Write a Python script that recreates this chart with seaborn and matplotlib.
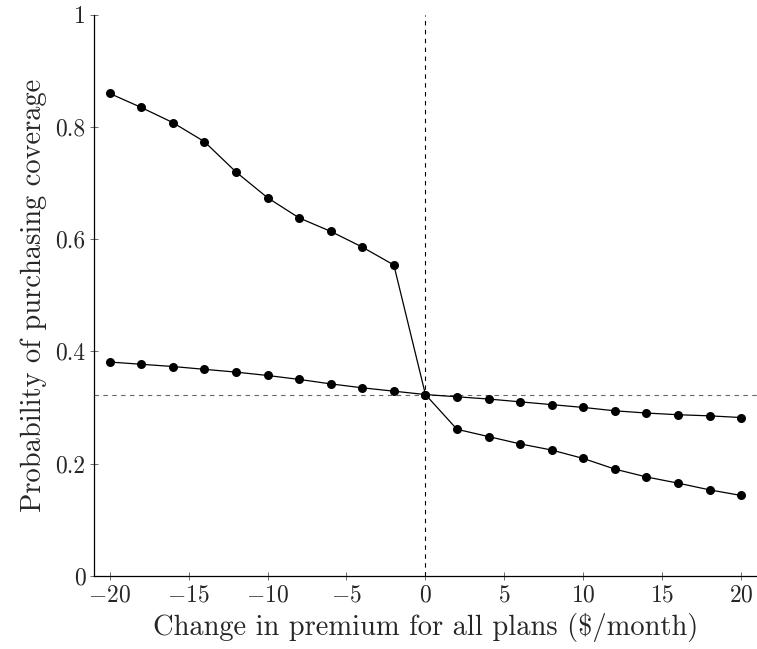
import pandas as pd
import matplotlib.pyplot as plt
import seaborn as sns

# Datos
premium = [-20, -18, -16, -14, -12, -10, -8, -6, -4, -2, 0,
           2, 4, 6, 8, 10, 12, 14, 16, 18, 20]
prob_steep = [0.860, 0.835, 0.808, 0.774, 0.720, 0.674, 0.638, 0.614, 0.586, 0.554, 0.323,
              0.261, 0.248, 0.235, 0.224, 0.209, 0.190, 0.176, 0.165, 0.153, 0.143]
prob_flat = [0.381, 0.377, 0.373, 0.368, 0.363, 0.357, 0.350, 0.342, 0.335, 0.329, 0.323,
             0.319, 0.315, 0.310, 0.305, 0.300, 0.294, 0.290, 0.287, 0.285, 0.282]
baseline = 0.323
xticks = [-20, -15, -10, -5, 0, 5, 10, 15, 20]
yticks = [0, 0.2, 0.4, 0.6, 0.8, 1]
ytick_labels = ['0', '0.2', '0.4', '0.6', '0.8', '1']

df = pd.DataFrame({
    'premium': premium * 2,
    'prob': prob_steep + prob_flat,
    'serie': ['steep'] * len(premium) + ['flat'] * len(premium),
})

sns.set_theme(style="ticks")
plt.rcParams['font.family'] = ['cmr10', 'DejaVu Serif']
plt.rcParams['mathtext.fontset'] = 'cm'
plt.rcParams['axes.formatter.use_mathtext'] = True

fig = plt.figure(figsize=(7.57, 6.49), dpi=100)
ax = fig.add_axes([0.124, 0.113, 0.876, 0.864])

# Líneas de referencia
ax.axvline(0, color='black', linestyle=(0, (4, 4)), linewidth=0.8, zorder=1)
ax.axhline(baseline, color='#666666', linestyle=(0, (4, 4)), linewidth=0.8, zorder=1)

sns.lineplot(data=df, x='premium', y='prob', hue='serie', palette=['black', 'black'],
             marker='o', markersize=6.5, markeredgewidth=0, linewidth=0.9,
             legend=False, ax=ax, zorder=3)

ax.set_xlim(-21, 21)
ax.set_ylim(0, 1)
ax.set_xticks(xticks)
ax.set_xticklabels([f'${t}$' for t in xticks])
ax.set_yticks(yticks)
ax.set_yticklabels(ytick_labels)
ax.tick_params(direction='inout', length=6, width=0.6, color='#555555',
               labelsize=17, pad=3)
for s in ['top', 'right']:
    ax.spines[s].set_visible(False)
for s in ['left', 'bottom']:
    ax.spines[s].set_linewidth(0.9)
    ax.spines[s].set_color('black')

ax.set_xlabel(r'Change in premium for all plans (\$/month)', fontsize=20.5, labelpad=5)
ax.set_ylabel('Probability of purchasing coverage', fontsize=20.5, labelpad=6)

plt.savefig('out.png', dpi=100)
